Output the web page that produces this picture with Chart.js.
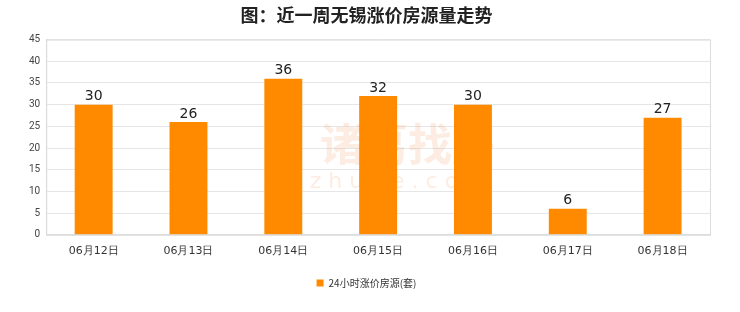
<!DOCTYPE html>
<html>
<head>
<meta charset="utf-8">
<script src="https://cdn.jsdelivr.net/npm/chart.js@4"></script>
<style>
  html, body { margin: 0; padding: 0; background: #fff; }
  #wrap { width: 740px; height: 312px; position: relative; }
</style>
</head>
<body>
<div id="wrap"><canvas id="chart"></canvas></div>
<script>
// data
var categories = ['06月12日', '06月13日', '06月14日', '06月15日', '06月16日', '06月17日', '06月18日'];
var values = [30, 26, 36, 32, 30, 6, 27];
var seriesName = '24小时涨价房源(套)';

// labels on top of the bars
var topLabels = {
  id: 'topLabels',
  afterDatasetsDraw: function (chart) {
    var ctx = chart.ctx;
    var meta = chart.getDatasetMeta(0);
    ctx.save();
    ctx.fillStyle = '#222';
    ctx.font = '14px "DejaVu Sans", sans-serif';
    ctx.textAlign = 'center';
    ctx.textBaseline = 'bottom';
    meta.data.forEach(function (bar, i) {
      ctx.fillText(values[i], bar.x, bar.y - 1);
    });
    ctx.restore();
  }
};

// box around the plot area + faint watermark
var plotBorder = {
  id: 'plotBorder',
  beforeDatasetsDraw: function (chart) {
    var a = chart.chartArea, ctx = chart.ctx;
    ctx.save();
    ctx.strokeStyle = '#dcdcdc';
    ctx.lineWidth = 1;
    ctx.strokeRect(a.left + 0.5, a.top + 0.5, a.right - a.left, a.bottom - a.top);
    var cx = (a.left + a.right) / 2;
    ctx.fillStyle = 'rgba(240,170,120,0.22)';
    ctx.textAlign = 'center';
    ctx.textBaseline = 'middle';
    ctx.font = 'bold 44px "Noto Sans CJK SC", sans-serif';
    ctx.fillText('诸葛找房', cx + 30, a.top + 105);
    ctx.font = '22px "DejaVu Sans", sans-serif';
    ctx.fillText('z h u g e . c o m', cx + 20, a.top + 143);
    ctx.restore();
  }
};

new Chart(document.getElementById('chart'), {
  type: 'bar',
  data: {
    labels: categories,
    datasets: [{
      label: seriesName,
      data: values,
      backgroundColor: '#ff8a00',
      borderWidth: 0,
      barPercentage: 0.8,
      categoryPercentage: 0.5
    }]
  },
  options: {
    responsive: true,
    maintainAspectRatio: false,
    animation: false,
    layout: { padding: { left: 23, right: 30, top: 0, bottom: 14 } },
    plugins: {
      title: {
        display: true,
        text: '图：近一周无锡涨价房源量走势',
        color: '#222',
        font: { size: 18, weight: 'bold', family: '"Noto Sans CJK SC", sans-serif' },
        padding: { top: 4, bottom: 14 }
      },
      legend: {
        position: 'bottom',
        labels: {
          color: '#333',
          boxWidth: 7,
          boxHeight: 7,
          padding: 18,
          font: { size: 10, family: '"Noto Sans CJK SC", serif' }
        }
      },
      tooltip: { enabled: false }
    },
    scales: {
      x: {
        grid: { display: false },
        border: { color: '#dcdcdc' },
        ticks: { color: '#333', font: { size: 11, family: '"DejaVu Sans", sans-serif' }, padding: 2 }
      },
      y: {
        min: 0,
        max: 45,
        ticks: { stepSize: 5, color: '#444', font: { size: 10, family: 'Roboto, sans-serif' }, padding: 6 },
        grid: { color: '#e6e6e6', drawTicks: false },
        border: { color: '#dcdcdc' }
      }
    }
  },
  plugins: [plotBorder, topLabels]
});
</script>
</body>
</html>
